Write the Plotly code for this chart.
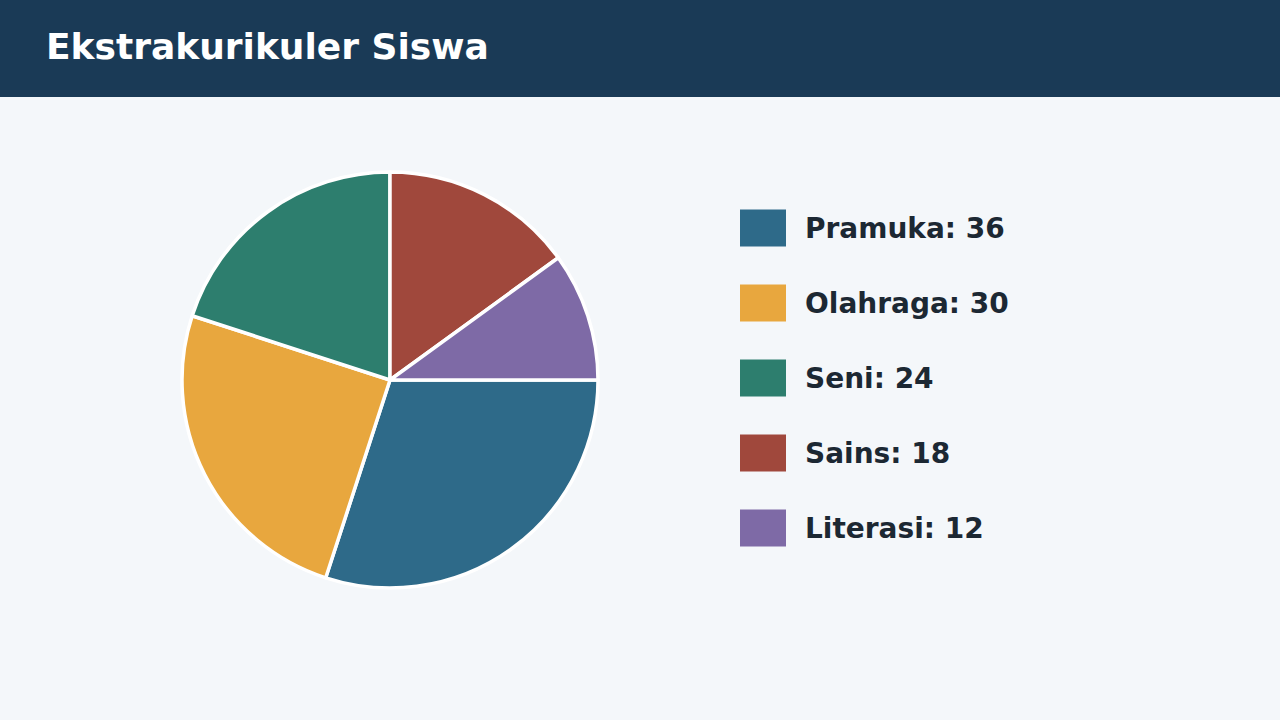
import plotly.graph_objects as go

categories = ["Pramuka", "Olahraga", "Seni", "Sains", "Literasi"]
values = [36, 30, 24, 18, 12]
colors = ["#2e6a89", "#e8a73e", "#2d7e6e", "#a0483c", "#7e6aa6"]
title = "Ekstrakurikuler Siswa"

W, H = 1280, 720
FONT = "DejaVu Sans"

fig = go.Figure()
fig.add_trace(go.Pie(
    labels=categories, values=values, sort=False, direction="clockwise",
    rotation=90, marker=dict(colors=colors, line=dict(color="white", width=3.5)),
    textinfo="none", hoverinfo="label+value", showlegend=False,
    domain=dict(x=[(390 - 208) / W, (390 + 208) / W],
                y=[1 - (380 + 208) / H, 1 - (380 - 208) / H]),
))

shapes = [dict(type="rect", xref="paper", yref="paper", x0=0, x1=1,
               y0=1 - 97 / H, y1=1, fillcolor="#1a3a56", line=dict(width=0), layer="below")]
annotations = [dict(text="<b>" + title + "</b>", xref="paper", yref="paper",
                    x=44 / W, y=1 - 47 / H, xanchor="left", yanchor="middle",
                    showarrow=False, font=dict(family=FONT, size=36, color="white"))]

for i, (c, v, col) in enumerate(zip(categories, values, colors)):
    cy = 228 + 75 * i
    shapes.append(dict(type="rect", xref="paper", yref="paper",
                       x0=740 / W, x1=786 / W, y0=1 - (cy + 18.5) / H, y1=1 - (cy - 18.5) / H,
                       fillcolor=col, line=dict(width=0)))
    annotations.append(dict(text=f"<b>{c}: {v}</b>", xref="paper", yref="paper",
                            x=803 / W, y=1 - cy / H, xanchor="left", yanchor="middle",
                            showarrow=False, font=dict(family=FONT, size=28, color="#1c2833")))

fig.update_layout(
    width=W, height=H, margin=dict(l=0, r=0, t=0, b=0),
    paper_bgcolor="#f4f7fa", plot_bgcolor="#f4f7fa",
    shapes=shapes, annotations=annotations, font=dict(family=FONT),
)
fig.write_html("out.html", config={"displayModeBar": False},
               post_script="document.body.style.margin='0';document.body.style.overflow='hidden';")
